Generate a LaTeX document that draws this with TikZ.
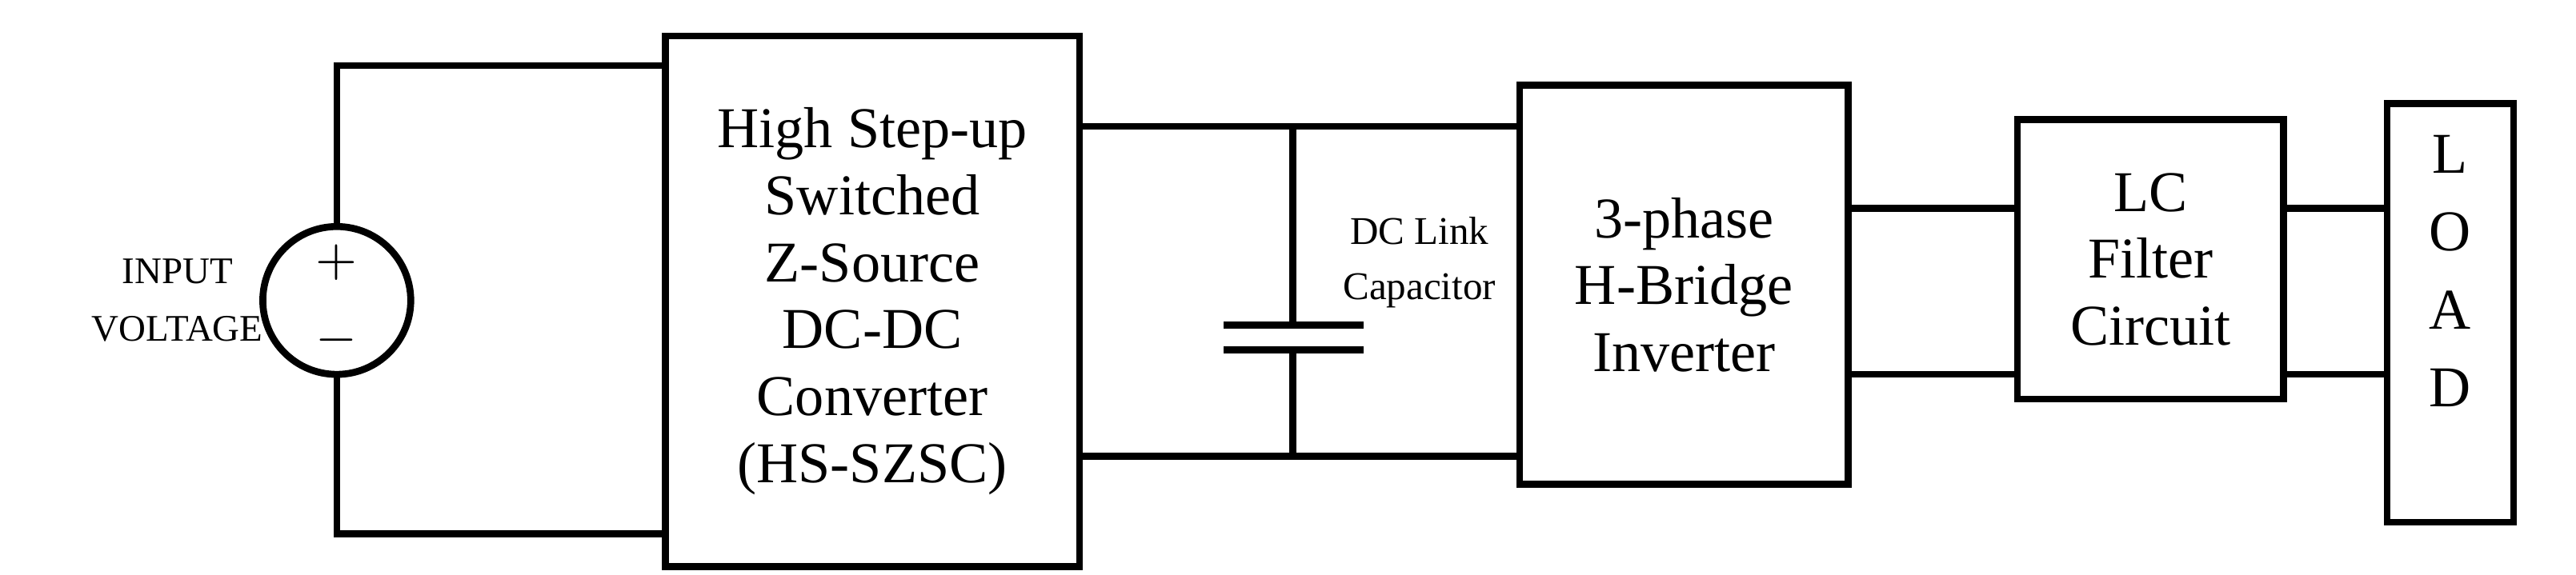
\documentclass[tikz,border=0pt]{standalone}
\usepackage{fontspec}
\setmainfont{Liberation Serif}
\begin{document}
\begin{tikzpicture}[x=0.01cm,y=-0.01cm,line width=1.2pt,
  blk/.style={draw,align=center,inner sep=0pt,font=\fontsize{10}{11.6}\selectfont},
  lbl/.style={align=center,inner sep=0pt}]
\useasboundingbox (0,0) rectangle (1568,350);
% source
\node[draw,circle,minimum size=0.9cm,inner sep=0pt] (src) at (205,183) {};
\node[font=\fontsize{9}{9}\selectfont] at (205,160) {$+$};
\node[font=\fontsize{9}{9}\selectfont] at (205,207) {$-$};
\node[lbl,font=\fontsize{6.5}{9.9}\selectfont] (in) at (108,183) {INPUT\\VOLTAGE};
% blocks
\node[blk,minimum width=2.52cm,minimum height=3.23cm] (conv) at (531,183.5)
  {High Step-up\\Switched\\Z-Source\\DC-DC\\Converter\\(HS-SZSC)};
\node[blk,minimum width=2cm,minimum height=2.43cm] (inv) at (1025,173.5)
  {3-phase\\H-Bridge\\Inverter};
\node[blk,minimum width=1.62cm,minimum height=1.7cm] (flt) at (1309,158)
  {LC\\Filter\\Circuit};
\node[blk,minimum width=0.77cm,minimum height=2.55cm] (load) at (1491.5,190.5) {};
\node[lbl,font=\fontsize{10}{13.5}\selectfont] (loadtxt) at (1491.5,165) {L\\O\\A\\D};
% source wiring
\draw (src.north) |- (conv.west |- 0,40);
\draw (src.south) |- (conv.west |- 0,325);
% DC link
\draw (conv.east |- 0,77) -- (inv.west |- 0,77);
\draw (conv.east |- 0,278) -- (inv.west |- 0,278);
\coordinate (ct) at (787,77);
\coordinate (cb) at (787,278);
\coordinate (p1) at (787,198);
\coordinate (p2) at (787,213);
\draw (ct) -- (p1);
\draw (p2) -- (cb);
\draw (745,198) -- (830,198);
\draw (745,213) -- (830,213);
\node[lbl,font=\fontsize{6.8}{9.6}\selectfont] (cap) at (864,160) {DC Link\\Capacitor};
% inverter to filter to load
\draw (inv.east |- 0,127) -- (flt.west |- 0,127);
\draw (inv.east |- 0,228) -- (flt.west |- 0,228);
\draw (flt.east |- 0,127) -- (load.west |- 0,127);
\draw (flt.east |- 0,228) -- (load.west |- 0,228);
\end{tikzpicture}
\end{document}
